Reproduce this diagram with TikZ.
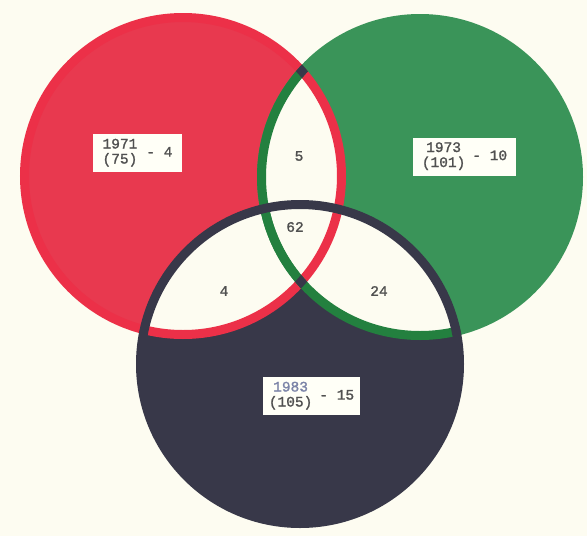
\documentclass[tikz,border=0pt]{standalone}
\usepackage{fontspec}
\newfontfamily\typefont{Liberation Mono}[FakeBold=1.4]
\usepackage{xcolor}
\usepackage{tikz}
\usetikzlibrary{positioning}

\definecolor{paper}{HTML}{FDFCF1}
\definecolor{redfill}{HTML}{E8394F}
\definecolor{redring}{HTML}{EC3048}
\definecolor{greenfill}{HTML}{3A9459}
\definecolor{greenring}{HTML}{23803F}
\definecolor{darkfill}{HTML}{383849}
\definecolor{tagfill}{HTML}{FFFFF7}
\definecolor{ink}{HTML}{505050}
\definecolor{inkblue}{HTML}{7C84A8}

\begin{document}
\begin{tikzpicture}[
    x=1pt, y=-1pt,
    ring/.style={
        line width=9pt
    },
    tag/.style={
        rectangle,
        fill=tagfill,
        minimum height=38pt,
        inner xsep=4pt,
        text=ink,
        font=\typefont\fontsize{14.5}{15}\selectfont
    },
    count/.style={
        text=ink,
        font=\typefont\fontsize{14.5}{15}\selectfont
    }
]

\useasboundingbox (0,0) rectangle (587,536);
\fill[paper] (0,0) rectangle (587,536);

% Circle centres

\coordinate (c71) at (183,176);
\coordinate (c73) at (420,177);
\coordinate (c83) at (300,364);

\def\rr{158.5pt}
\def\rd{159.5pt}

% Fills

\fill[redfill] (c71) circle[radius=\rr];
\fill[greenfill] (c73) circle[radius=163pt];
\fill[darkfill] (c83) circle[radius=\rd];

% Overlaps left blank

\begin{scope}
\clip (c71) circle[radius=\rr];
\fill[paper] (c73) circle[radius=\rr];
\fill[paper] (c83) circle[radius=\rd];
\end{scope}
\begin{scope}
\clip (c73) circle[radius=\rr];
\fill[paper] (c83) circle[radius=\rd];
\end{scope}

% Rings

\draw[ring, redring] (c71) circle[radius=\rr];

\begin{scope}
\clip (c71) circle[radius=163pt];
\draw[ring, greenring] (c73) circle[radius=\rr];
\end{scope}
\begin{scope}
\clip (c83) circle[radius=164pt];
\draw[ring, greenring] (c73) circle[radius=\rr];
\end{scope}

\begin{scope}[even odd rule]
\clip (c73) circle[radius=163pt] (c73) circle[radius=154pt];
\draw[ring, darkfill] (c71) circle[radius=\rr];
\end{scope}

\draw[ring, darkfill] (c83) circle[radius=\rd];

% Labels

\node[tag, minimum width=89pt] (t71) at (137.5,153) {%
\begin{tabular}{@{}l@{}}1971\\(75)\end{tabular}\hspace{9pt}-~4};

\node[tag, minimum width=103pt] (t73) at (464.5,156.5) {%
\begin{tabular}{@{}c@{}}1973\\(101)\end{tabular}\hspace{7pt}-~10};

\node[tag, minimum width=97pt] (t83) at (311.5,396) {%
\begin{tabular}{@{}c@{}}\textcolor{inkblue}{1983}\\(105)\end{tabular}\hspace{7pt}-~15};

\node[count] (n5) at (299,156) {5};
\node[count] (n62) at (295,227) {62};
\node[count] (n4) at (224,291) {4};
\node[count] (n24) at (379,291) {24};

\end{tikzpicture}
\end{document}
